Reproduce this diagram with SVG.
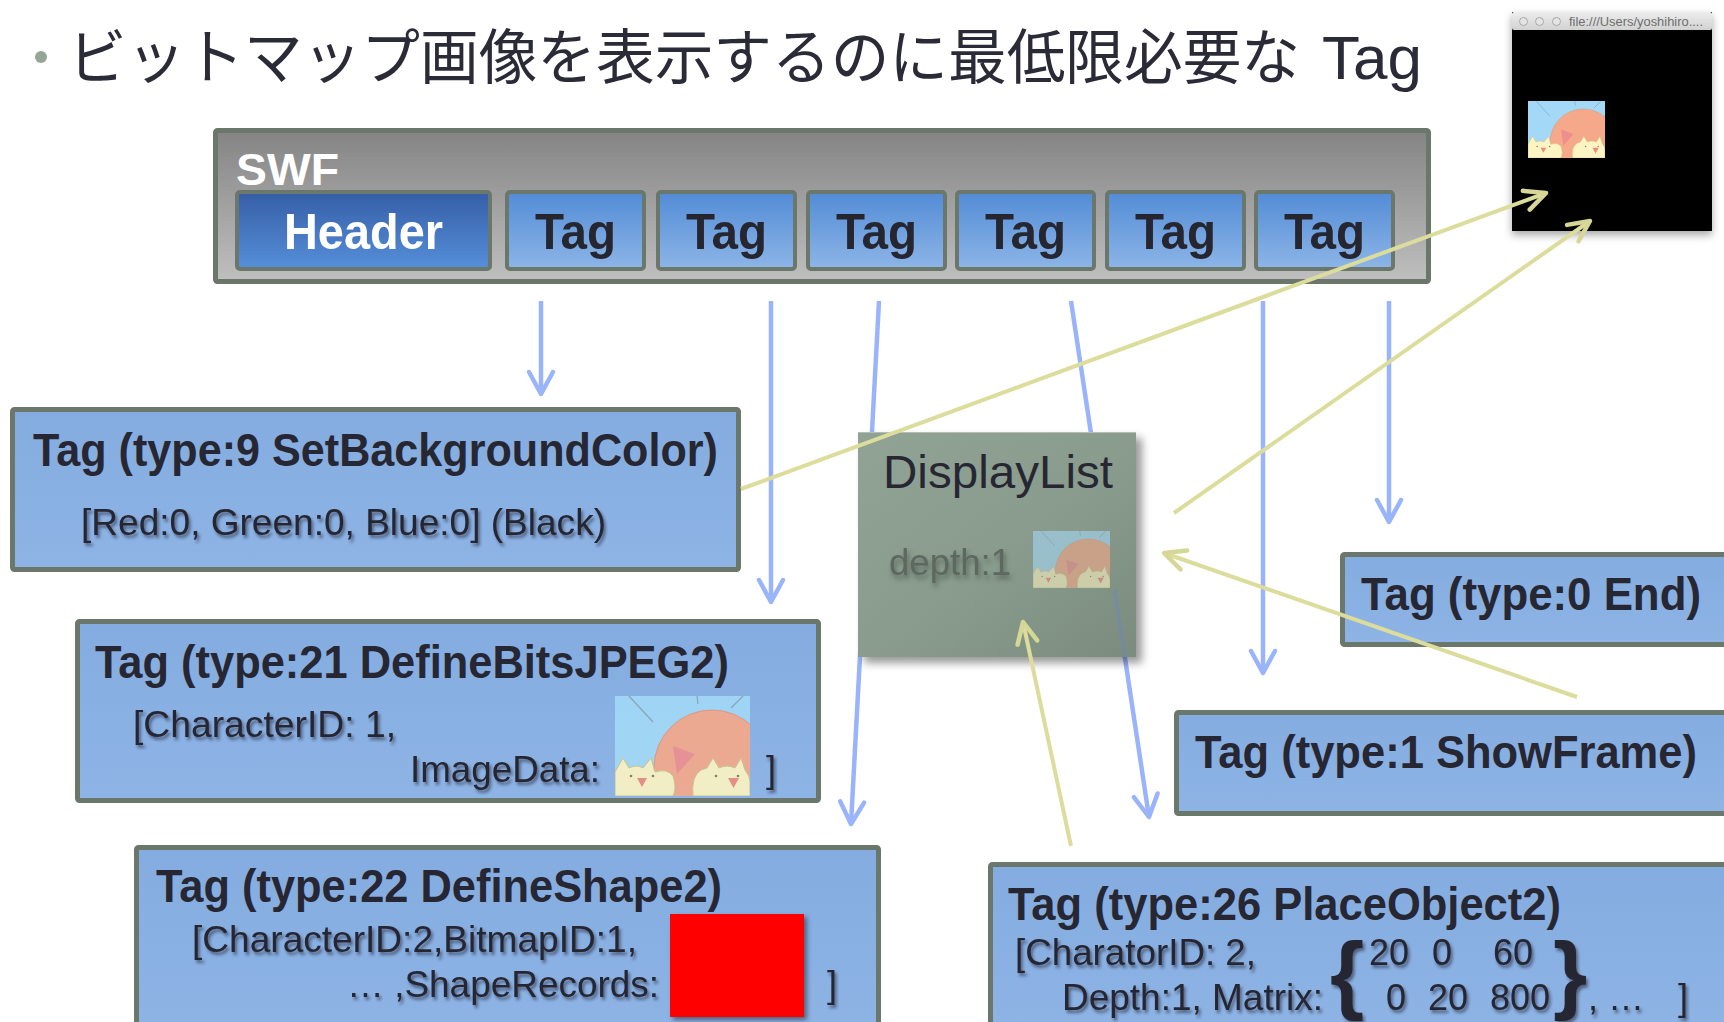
<svg xmlns="http://www.w3.org/2000/svg" xmlns:xlink="http://www.w3.org/1999/xlink" width="1724" height="1022" viewBox="0 0 1724 1022">
  <style>
    .lat { font-family: "Liberation Sans", Arial, sans-serif; }
    .jp { font-family: "Liberation Sans", "Noto Sans CJK JP", sans-serif; fill: #2b2b38; }
    .ttl { font-family: "Liberation Sans", Arial, sans-serif; font-weight: bold; font-size: 47px; fill: #272733; }
    .sub { font-family: "Liberation Sans", Arial, sans-serif; font-size: 36px; fill: #272733; filter: url(#tshadow); }
    .brace { font-family: "Liberation Sans", Arial, sans-serif; font-size: 88px; font-weight: bold; fill: #272733; filter: url(#tshadow); }
    .box { fill: url(#gBox); stroke: #6b776b; stroke-width: 5; }
    .cell { stroke: #6b776b; stroke-width: 4; }
    .cellTxt { font-family: "Liberation Sans", Arial, sans-serif; font-weight: bold; font-size: 50px; fill: #262630; }
    .blue { stroke: #9ab4fc; stroke-width: 4.5; fill: none; }
    .yel { stroke: #dcdc9c; stroke-width: 4; fill: none; }
  </style>
  <defs>
    <linearGradient id="gSwf" x1="0" y1="0" x2="0" y2="1">
      <stop offset="0" stop-color="#848484"/>
      <stop offset="1" stop-color="#bfbfbf"/>
    </linearGradient>
    <linearGradient id="gHead" x1="0" y1="0" x2="0" y2="1">
      <stop offset="0" stop-color="#355ea6"/>
      <stop offset="1" stop-color="#568fd9"/>
    </linearGradient>
    <linearGradient id="gTag" x1="0" y1="0" x2="0" y2="1">
      <stop offset="0" stop-color="#528cd6"/>
      <stop offset="1" stop-color="#8db5e7"/>
    </linearGradient>
    <linearGradient id="gBox" x1="0" y1="0" x2="0" y2="1">
      <stop offset="0" stop-color="#84ace0"/>
      <stop offset="1" stop-color="#8eb4e5"/>
    </linearGradient>
    <linearGradient id="gDl" x1="0" y1="0" x2="1" y2="1">
      <stop offset="0" stop-color="#90a394"/>
      <stop offset="0.55" stop-color="#889b8c"/>
      <stop offset="1" stop-color="#7b8c7e"/>
    </linearGradient>
    <linearGradient id="gBar" x1="0" y1="0" x2="0" y2="1">
      <stop offset="0" stop-color="#ededed"/>
      <stop offset="1" stop-color="#d2d2d2"/>
    </linearGradient>
    <filter id="tshadow" x="-5%" y="-30%" width="115%" height="170%">
      <feDropShadow dx="2" dy="3" stdDeviation="1.8" flood-color="#1a2030" flood-opacity="0.55"/>
    </filter>
    <filter id="soft" x="-10%" y="-30%" width="130%" height="180%">
      <feGaussianBlur in="SourceGraphic" stdDeviation="0.7" result="b"/>
      <feDropShadow in="b" dx="2" dy="4" stdDeviation="2.5" flood-color="#3a463e" flood-opacity="0.6"/>
    </filter>
    <filter id="dropBox" x="-10%" y="-10%" width="125%" height="125%">
      <feDropShadow dx="6" dy="6" stdDeviation="4" flood-color="#000" flood-opacity="0.4"/>
    </filter>
    <filter id="dropWin" x="-15%" y="-15%" width="130%" height="130%">
      <feDropShadow dx="0" dy="4" stdDeviation="4" flood-color="#000" flood-opacity="0.35"/>
    </filter>
    <filter id="dropRed" x="-10%" y="-10%" width="130%" height="130%">
      <feDropShadow dx="3" dy="3" stdDeviation="2.5" flood-color="#000" flood-opacity="0.45"/>
    </filter>
    <marker id="arrBlue" markerUnits="userSpaceOnUse" viewBox="-30 -20 40 40" markerWidth="40" markerHeight="40" refX="0" refY="0" orient="auto" overflow="visible">
      <path d="M-22,-12 L0,0 L-22,12" fill="none" stroke="#9ab4fc" stroke-width="4.5" stroke-linecap="round" stroke-linejoin="round"/>
    </marker>
    <marker id="arrYel" markerUnits="userSpaceOnUse" viewBox="-30 -20 40 40" markerWidth="40" markerHeight="40" refX="0" refY="0" orient="auto" overflow="visible">
      <path d="M-21,-10 L0,0 L-21,10" fill="none" stroke="#d6d696" stroke-width="4.5" stroke-linecap="round" stroke-linejoin="round"/>
    </marker>
    <!-- small bitmap: sun with two chicks -->
    <symbol id="pic" viewBox="0 0 135 100" preserveAspectRatio="none">
      <rect width="135" height="100" fill="#a3d9f6"/>
      <g stroke="#8aa0b8" stroke-width="1.2">
        <line x1="14" y1="0" x2="38" y2="26"/>
        <line x1="82" y1="0" x2="83" y2="8"/>
        <line x1="128" y1="0" x2="116" y2="12"/>
      </g>
      <circle cx="97" cy="72" r="58" fill="#f6a98a" stroke="#e39479" stroke-width="1"/>
      <path d="M58,50 L80,58 L62,78 Z" fill="#ef8e8e"/>
      <path d="M0,100 L0,76 L8,62 L14,72 Q22,68 28,72 L36,62 L40,76 Q52,72 58,80 Q62,92 58,100 Z" fill="#fcf4c2" stroke="#d2c38a" stroke-width="1"/>
      <path d="M78,100 Q76,80 86,74 L92,72 L98,62 L104,72 Q112,68 120,72 L126,62 L130,74 Q135,80 135,86 L135,100 Z" fill="#fcf4c2" stroke="#d2c38a" stroke-width="1"/>
      <g fill="#8a7a55">
        <circle cx="16" cy="80" r="1.3"/><circle cx="38" cy="80" r="1.3"/>
        <circle cx="101" cy="80" r="1.3"/><circle cx="123" cy="80" r="1.3"/>
      </g>
      <path d="M22,82 L32,82 L27,91 Z M113,82 L124,82 L118.5,92 Z" fill="#ee8a7e"/>
    </symbol>
  </defs>

  <rect width="1724" height="1022" fill="#ffffff"/>

  <!-- heading -->
  <g id="heading">
    <circle cx="41" cy="57" r="6" fill="#95a597"/>
    <text class="jp" x="68" y="79" font-size="60" textLength="1232" lengthAdjust="spacingAndGlyphs">ビットマップ画像を表示するのに最低限必要な</text>
    <text class="lat" x="1322" y="79" font-size="62" fill="#2b2b38" textLength="100" lengthAdjust="spacingAndGlyphs">Tag</text>
  </g>

  <!-- SWF container with header and tag cells -->
  <g id="swf">
    <rect x="215.5" y="130.5" width="1213" height="151" rx="2" fill="url(#gSwf)" stroke="#6b776b" stroke-width="5"/>
    <text class="lat" x="236" y="185" font-size="44" font-weight="bold" fill="#ffffff" textLength="103" lengthAdjust="spacingAndGlyphs">SWF</text>
    <g id="swf-header">
      <rect class="cell" x="237" y="192" width="253" height="77" rx="3" fill="url(#gHead)"/>
      <text class="cellTxt" x="284" y="249" style="fill:#ffffff" textLength="159" lengthAdjust="spacingAndGlyphs">Header</text>
    </g>
    <g id="swf-tag1">
      <rect class="cell" x="507" y="192" width="137" height="77" rx="3" fill="url(#gTag)"/>
      <text class="cellTxt" x="535" y="249" textLength="81" lengthAdjust="spacingAndGlyphs">Tag</text>
    </g>
    <g id="swf-tag2">
      <rect class="cell" x="658" y="192" width="137" height="77" rx="3" fill="url(#gTag)"/>
      <text class="cellTxt" x="686" y="249" textLength="81" lengthAdjust="spacingAndGlyphs">Tag</text>
    </g>
    <g id="swf-tag3">
      <rect class="cell" x="808" y="192" width="137" height="77" rx="3" fill="url(#gTag)"/>
      <text class="cellTxt" x="836" y="249" textLength="81" lengthAdjust="spacingAndGlyphs">Tag</text>
    </g>
    <g id="swf-tag4">
      <rect class="cell" x="957" y="192" width="137" height="77" rx="3" fill="url(#gTag)"/>
      <text class="cellTxt" x="985" y="249" textLength="81" lengthAdjust="spacingAndGlyphs">Tag</text>
    </g>
    <g id="swf-tag5">
      <rect class="cell" x="1107" y="192" width="137" height="77" rx="3" fill="url(#gTag)"/>
      <text class="cellTxt" x="1135" y="249" textLength="81" lengthAdjust="spacingAndGlyphs">Tag</text>
    </g>
    <g id="swf-tag6">
      <rect class="cell" x="1256" y="192" width="137" height="77" rx="3" fill="url(#gTag)"/>
      <text class="cellTxt" x="1284" y="249" textLength="81" lengthAdjust="spacingAndGlyphs">Tag</text>
    </g>
  </g>

  <!-- rendered output window -->
  <g id="player-window">
    <g filter="url(#dropWin)">
      <rect x="1512" y="12" width="200" height="219" fill="#000000"/>
      <rect x="1512" y="12" width="200" height="18" rx="2" fill="url(#gBar)"/>
    </g>
    <g fill="#e4e4e4" stroke="#a8a8a8" stroke-width="1">
      <circle cx="1523.5" cy="21.5" r="4"/>
      <circle cx="1539.5" cy="21.5" r="4"/>
      <circle cx="1556.5" cy="21.5" r="4"/>
    </g>
    <text class="lat" x="1569" y="26" font-size="12" fill="#6d6d6d" textLength="134" lengthAdjust="spacingAndGlyphs">file:///Users/yoshihiro....</text>
    <use href="#pic" x="1528" y="101" width="77" height="57"/>
  </g>

  <!-- SWF tag → tag record connectors -->
  <g id="connectors-tags">
    <line class="blue" x1="541" y1="301" x2="541" y2="394" marker-end="url(#arrBlue)"/>
    <line class="blue" x1="771" y1="301" x2="771" y2="602" marker-end="url(#arrBlue)"/>
    <line class="blue" x1="879" y1="301" x2="851" y2="824" marker-end="url(#arrBlue)"/>
    <line class="blue" x1="1071" y1="301" x2="1149" y2="817" marker-end="url(#arrBlue)"/>
    <line class="blue" x1="1263" y1="301" x2="1263" y2="673" marker-end="url(#arrBlue)"/>
    <line class="blue" x1="1389" y1="301" x2="1389" y2="522" marker-end="url(#arrBlue)"/>
  </g>

  <!-- tag records -->
  <g id="tag-setbackgroundcolor">
    <rect class="box" x="12.5" y="409.5" width="726" height="160" rx="2"/>
    <text class="ttl" x="33" y="466" textLength="685" lengthAdjust="spacingAndGlyphs">Tag (type:9 SetBackgroundColor)</text>
    <text class="sub" x="81" y="535" textLength="525" lengthAdjust="spacingAndGlyphs">[Red:0, Green:0, Blue:0] (Black)</text>
  </g>

  <g id="tag-definebitsjpeg2">
    <rect class="box" x="77.5" y="621.5" width="741" height="179" rx="2"/>
    <text class="ttl" x="95" y="678" textLength="634" lengthAdjust="spacingAndGlyphs">Tag (type:21 DefineBitsJPEG2)</text>
    <text class="sub" x="133" y="737" textLength="263" lengthAdjust="spacingAndGlyphs">[CharacterID: 1,</text>
    <text class="sub" x="410" y="782" textLength="190" lengthAdjust="spacingAndGlyphs">ImageData:</text>
    <use href="#pic" x="615" y="696" width="135" height="100" opacity="0.9"/>
    <text class="sub" x="766" y="782">]</text>
  </g>

  <g id="tag-defineshape2">
    <rect class="box" x="136.5" y="847.5" width="742" height="190" rx="2"/>
    <text class="ttl" x="156" y="902" textLength="566" lengthAdjust="spacingAndGlyphs">Tag (type:22 DefineShape2)</text>
    <text class="sub" x="192" y="952" textLength="445" lengthAdjust="spacingAndGlyphs">[CharacterID:2,BitmapID:1,</text>
    <text class="sub" x="347" y="997" textLength="312" lengthAdjust="spacingAndGlyphs">… ,ShapeRecords:</text>
    <rect x="670" y="914" width="134" height="103" fill="#ff0000" filter="url(#dropRed)"/>
    <text class="sub" x="827" y="997">]</text>
  </g>

  <g id="tag-end">
    <rect class="box" x="1342.5" y="554.5" width="400" height="90" rx="2"/>
    <text class="ttl" x="1361" y="610" textLength="340" lengthAdjust="spacingAndGlyphs">Tag (type:0 End)</text>
  </g>

  <g id="tag-showframe">
    <rect class="box" x="1176.5" y="712.5" width="560" height="101" rx="2"/>
    <text class="ttl" x="1195" y="768" textLength="502" lengthAdjust="spacingAndGlyphs">Tag (type:1 ShowFrame)</text>
  </g>

  <g id="tag-placeobject2">
    <rect class="box" x="990.5" y="864.5" width="760" height="170" rx="2"/>
    <text class="ttl" x="1008" y="920" textLength="553" lengthAdjust="spacingAndGlyphs">Tag (type:26 PlaceObject2)</text>
    <text class="sub" x="1015" y="965" textLength="241" lengthAdjust="spacingAndGlyphs">[CharatorID: 2,</text>
    <text class="sub" x="1062" y="1010" textLength="261" lengthAdjust="spacingAndGlyphs">Depth:1, Matrix:</text>
    <text class="brace" x="1330" y="1003">{</text>
    <text class="sub" x="1369" y="965">20</text>
    <text class="sub" x="1432" y="965">0</text>
    <text class="sub" x="1493" y="965">60</text>
    <text class="sub" x="1386" y="1010">0</text>
    <text class="sub" x="1428" y="1010">20</text>
    <text class="sub" x="1490" y="1010">800</text>
    <text class="brace" x="1553" y="1003">}</text>
    <text class="sub" x="1588" y="1010">, …</text>
    <text class="sub" x="1678" y="1010">]</text>
  </g>

  <!-- display list state -->
  <g id="displaylist">
    <rect x="858" y="432" width="278" height="225" fill="url(#gDl)" filter="url(#dropBox)"/>
    <line x1="858" y1="432.5" x2="1136" y2="432.5" stroke="#b3beb4" stroke-width="1"/>
    <line x1="1114.6" y1="590" x2="1124.8" y2="657" stroke="#6f86b8" stroke-width="4" opacity="0.45"/>
    <text class="lat" x="883" y="488" font-size="47" fill="#272733" textLength="230" lengthAdjust="spacingAndGlyphs">DisplayList</text>
    <text class="lat" x="889" y="575" font-size="37" fill="#5c6860" filter="url(#soft)" textLength="122" lengthAdjust="spacingAndGlyphs">depth:1</text>
    <use href="#pic" x="1033" y="531" width="77" height="57" opacity="0.7"/>
    <rect x="1033" y="531" width="77" height="57" fill="#8a9c8d" opacity="0.15"/>
  </g>

  <!-- render / place connectors -->
  <g id="connectors-render">
    <line class="yel" x1="741" y1="489" x2="1546" y2="193" marker-end="url(#arrYel)"/>
    <line class="yel" x1="1174" y1="513" x2="1590" y2="221" marker-end="url(#arrYel)"/>
    <line class="yel" x1="1577" y1="697" x2="1164" y2="553" marker-end="url(#arrYel)"/>
    <line class="yel" x1="1071" y1="846" x2="1023" y2="622" marker-end="url(#arrYel)"/>
  </g>
</svg>
